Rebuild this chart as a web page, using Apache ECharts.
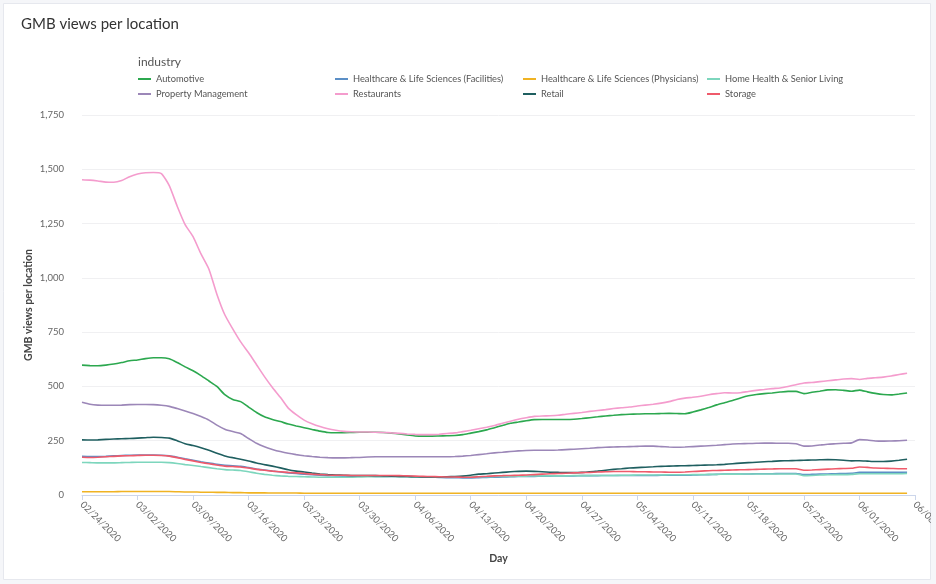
<!DOCTYPE html>
<html>
<head>
<meta charset="utf-8">
<script src="https://cdn.jsdelivr.net/npm/echarts@6/dist/echarts.min.js"></script>
<style>
html,body{margin:0;padding:0;background:#f5f6f9;}
#chart{width:936px;height:584px;}
</style>
</head>
<body>
<div id="chart"></div>
<script>
// ---- Data ----
const startDate = [2020, 2, 24];   // 02/24/2020
const dayCount = 106;              // axis runs to 06/08/2020

const seriesNames = [
  "Automotive",
  "Healthcare & Life Sciences (Facilities)",
  "Healthcare & Life Sciences (Physicians)",
  "Home Health & Senior Living",
  "Property Management",
  "Restaurants",
  "Retail",
  "Storage"
];

const automotive = [598,596,595,598,603,610,618,622,628,632,632,627,610,590,572,550,525,500,462,440,430,405,380,360,348,338,327,318,310,302,294,288,287,287,288,289,289,289,288,285,281,276,272,271,271,272,273,274,278,285,292,300,310,320,330,336,342,347,348,348,348,348,349,352,356,360,364,367,370,372,373,374,374,375,376,375,374,382,392,403,415,425,435,447,457,463,467,470,474,477,477,467,473,478,484,485,482,478,483,475,468,463,461,465,470];

const hcFacilities = [178,177,177,178,180,182,183,184,184,184,183,180,174,167,160,153,147,141,137,135,132,126,120,115,110,106,102,99,96,93,91,89,88,87,87,87,87,86,86,86,86,85,84,83,82,81,80,80,79,79,80,81,82,83,84,85,86,86,87,87,88,88,88,89,89,89,90,90,90,90,90,90,90,91,91,91,91,92,93,94,95,96,96,97,97,98,98,98,99,99,99,94,95,96,97,98,99,100,104,104,104,104,104,105,105];

const hcPhysicians = [15,15,15,15,15,16,16,16,16,16,16,16,15,14,14,13,13,12,12,11,11,10,10,10,9,9,9,9,8,8,8,8,8,8,8,8,8,8,8,8,8,8,8,8,8,8,8,8,8,8,8,8,8,8,8,8,8,8,8,8,8,8,8,8,8,8,8,8,8,8,8,8,8,8,8,8,8,8,8,8,8,8,8,8,8,8,8,8,8,8,8,8,8,8,8,8,8,8,8,8,8,8,8,8,8];

const homeHealth = [150,149,148,148,148,149,150,151,151,151,151,149,145,140,136,131,126,121,117,115,113,107,100,95,91,88,86,85,84,83,82,82,82,82,82,83,84,84,84,85,84,84,83,83,83,83,83,83,83,83,84,84,85,86,86,87,87,88,88,88,88,88,89,89,89,90,90,90,91,91,92,92,92,92,93,93,93,94,94,95,95,96,96,96,97,97,97,97,97,97,97,89,90,92,93,94,94,95,98,98,98,98,98,98,99];

const propertyMgmt = [427,418,414,413,413,414,416,417,417,416,413,408,398,387,375,361,345,322,303,292,283,260,238,222,210,200,192,186,181,177,174,172,171,171,172,173,175,176,176,176,176,176,176,176,176,176,176,177,179,182,186,190,194,197,200,203,205,206,206,206,207,209,211,213,215,218,220,221,222,223,224,225,225,223,221,220,221,223,225,227,229,232,235,236,237,238,239,239,238,238,236,225,226,230,234,236,238,240,255,253,249,248,249,250,252];

const restaurants = [1452,1450,1446,1441,1440,1448,1466,1478,1484,1485,1480,1425,1330,1245,1190,1110,1040,925,830,765,705,655,600,545,495,450,400,370,345,328,315,305,298,293,291,290,290,289,288,286,284,281,279,278,278,280,283,286,292,298,305,312,320,330,340,349,356,362,364,365,367,372,376,380,385,389,393,398,402,405,410,414,418,423,430,440,446,450,455,462,467,471,470,471,477,482,486,490,493,500,508,516,518,522,526,530,534,536,532,537,540,543,548,555,561];

const retail = [254,253,254,256,258,259,260,262,264,266,265,262,250,236,228,218,206,192,180,172,165,157,147,140,133,125,116,110,106,101,97,94,92,91,90,90,90,89,88,87,86,85,84,83,83,83,84,85,87,91,96,98,101,104,107,109,110,109,107,105,104,103,103,104,107,110,114,118,121,124,126,128,130,132,133,134,135,136,137,138,139,141,144,147,149,151,153,155,157,158,159,160,161,162,163,162,160,157,158,156,154,154,156,160,165];

const storage = [174,173,174,176,178,180,181,182,183,183,182,179,172,164,157,150,144,138,133,131,129,124,118,114,110,107,104,102,99,96,94,92,91,91,90,90,90,90,90,90,89,88,87,86,85,84,83,83,82,82,84,86,88,89,90,91,92,94,96,98,99,100,102,103,104,106,107,108,108,108,107,107,106,106,105,105,106,108,110,112,113,114,115,116,117,118,119,120,121,121,121,114,115,117,119,121,122,123,129,127,124,123,122,121,121];

const seriesColors = ["#2ca84f","#5b8fc6","#f0b323","#7dd6bd","#9c87b8","#f49ccd","#1f5f60","#ef5a6b"];
const yTicks = {min:0, max:1750, interval:250};

// ---- Build categories ----
const categories = [];
{
  const d0 = new Date(Date.UTC(startDate[0], startDate[1]-1, startDate[2]));
  for (let i = 0; i < dayCount; i++) {
    const d = new Date(d0.getTime() + i*86400000);
    const mm = String(d.getUTCMonth()+1).padStart(2,'0');
    const dd = String(d.getUTCDate()).padStart(2,'0');
    categories.push(mm + '/' + dd + '/' + d.getUTCFullYear());
  }
}

const seriesData = [automotive, hcFacilities, hcPhysicians, homeHealth, propertyMgmt, restaurants, retail, storage];
const FONT = 'Lato, "Open Sans", sans-serif';

const legendCols = [
  {left:138, names:[seriesNames[0], seriesNames[4]]},
  {left:335, names:[seriesNames[1], seriesNames[5]]},
  {left:523, names:[seriesNames[2], seriesNames[6]]},
  {left:707, names:[seriesNames[3], seriesNames[7]]}
];

const chart = echarts.init(document.getElementById('chart'), null, {renderer:'canvas'});
chart.setOption({
  animation:false,
  backgroundColor:'#f5f6f9',
  color: seriesColors,
  textStyle:{fontFamily:FONT},
  title:{
    text:'GMB views per location',
    left:16, top:12,
    textStyle:{fontFamily:FONT, fontSize:15, fontWeight:'normal', color:'#333'}
  },
  graphic:[
    {type:'rect', z:-10, silent:true,
     shape:{x:3.5, y:3.5, width:927, height:576},
     style:{fill:'#ffffff', stroke:'#e6e8ee', lineWidth:1}},
    {type:'rect', z:100, silent:true,
     shape:{x:931, y:0, width:5, height:584},
     style:{fill:'#f5f6f9'}},
    {type:'text', left:138, top:56,
     style:{text:'industry', fill:'#555', font:'12px ' + FONT}}
  ],
  legend: legendCols.map(c => ({
    data:c.names,
    orient:'vertical',
    left:c.left, top:73,
    itemGap:3,
    itemWidth:13, itemHeight:2,
    icon:'rect',
    padding:0,
    textStyle:{fontFamily:FONT, fontSize:9.3, color:'#555', lineHeight:12}
  })),
  grid:{left:82, right:21, top:115, bottom:89, containLabel:false, outerBoundsMode:'none'},
  xAxis:{
    type:'category',
    data:categories,
    boundaryGap:false,
    name:'Day',
    nameLocation:'middle',
    nameGap:58,
    nameMoveOverlap:false,
    nameTextStyle:{fontFamily:FONT, fontSize:10.5, fontWeight:'bold', color:'#444'},
    axisLine:{lineStyle:{color:'#ccd6eb'}},
    axisTick:{interval:6, length:5, lineStyle:{color:'#ccd6eb'}},
    axisLabel:{interval:6, rotate:-45, fontSize:9.5, color:'#666', margin:8, fontFamily:FONT},
    splitLine:{show:false}
  },
  yAxis:{
    type:'value',
    min:yTicks.min, max:yTicks.max, interval:yTicks.interval,
    name:'GMB views per location',
    nameLocation:'middle',
    nameGap:48,
    nameMoveOverlap:false,
    nameTextStyle:{fontFamily:FONT, fontSize:10.5, fontWeight:'bold', color:'#444'},
    axisLine:{show:false},
    axisTick:{show:false},
    axisLabel:{fontSize:9.5, color:'#666', margin:18, fontFamily:FONT,
      formatter:v => v.toLocaleString('en-US')},
    splitLine:{lineStyle:{color:'#f0f0f2'}}
  },
  series: seriesNames.map((n,i) => ({
    name:n,
    type:'line',
    data:seriesData[i],
    showSymbol:false,
    symbol:'none',
    lineStyle:{width:1.6},
    smooth:0.2
  }))
});
</script>
</body>
</html>
